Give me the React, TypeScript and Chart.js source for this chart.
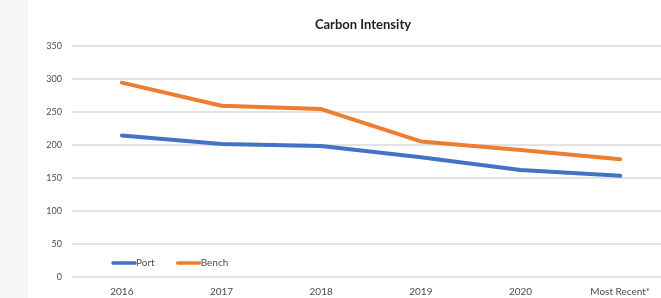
import React, { useEffect, useRef } from "react";
import { Chart, registerables } from "chart.js";

Chart.register(...registerables);

const categories = ["2016", "2017", "2018", "2019", "2020", "Most Recent*"];
const portValues = [214, 201, 198, 181, 162, 153];
const benchValues = [294, 259, 254, 205, 192, 178];
const yTicks = [0, 50, 100, 150, 200, 250, 300, 350];

const FONT = "Lato, 'Open Sans', sans-serif";

const insideLegend = {
  id: "insideLegend",
  afterLayout(chart: any) {
    // shift the title block so it is centred like the original chart
    const t = chart.titleBlock;
    if (t) t.left += 28;
  },
  afterDraw(chart: any) {
    const { ctx, chartArea } = chart;
    const y = chartArea.bottom - 14;
    let x = chartArea.left + 41;
    ctx.save();
    ctx.font = `10px ${FONT}`;
    ctx.textBaseline = "middle";
    chart.data.datasets.forEach((ds: any) => {
      ctx.strokeStyle = ds.borderColor;
      ctx.lineWidth = 3.5;
      ctx.lineCap = "round";
      ctx.beginPath();
      ctx.moveTo(x, y);
      ctx.lineTo(x + 22, y);
      ctx.stroke();
      ctx.fillStyle = "#4d4d4d";
      ctx.fillText(ds.label, x + 23, y);
      x += 23 + ctx.measureText(ds.label).width + 23;
    });
    ctx.restore();
  },
};

export default function App() {
  const ref = useRef<HTMLCanvasElement>(null);
  useEffect(() => {
    if (!ref.current) return;
    const chart = new Chart(ref.current, {
      type: "line",
      data: {
        labels: categories,
        datasets: [
          {
            label: "Port",
            data: portValues,
            borderColor: "#4472C4",
            backgroundColor: "#4472C4",
            borderWidth: 4,
            pointRadius: 0,
            tension: 0,
            borderJoinStyle: "round",
            borderCapStyle: "round",
          },
          {
            label: "Bench",
            data: benchValues,
            borderColor: "#ED7D31",
            backgroundColor: "#ED7D31",
            borderWidth: 4,
            pointRadius: 0,
            tension: 0,
            borderJoinStyle: "round",
            borderCapStyle: "round",
          },
        ],
      },
      options: {
        animation: false,
        responsive: false,
        layout: { padding: { left: 0, right: 28, top: 0, bottom: 0 } },
        plugins: {
          legend: { display: false },
          tooltip: { enabled: false },
          title: {
            display: true,
            text: "Carbon Intensity",
            color: "#1f1f1f",
            font: { family: FONT, size: 13, weight: "bold" },
            padding: { top: 17, bottom: 13 },
          },
        },
        scales: {
          x: {
            type: "category",
            offset: true,
            grid: { display: false, drawTicks: false },
            border: { display: false },
            ticks: {
              color: "#4d4d4d",
              font: { family: FONT, size: 10 },
              padding: 9,
              maxRotation: 0,
              autoSkip: false,
            },
            afterFit(scale: any) {
              scale.height = 21;
            },
          },
          y: {
            min: 0,
            max: 350,
            afterBuildTicks(scale: any) {
              scale.ticks = yTicks.map((v) => ({ value: v }));
            },
            grid: { color: "#e3e3e3", lineWidth: 2, drawTicks: false },
            border: { display: false },
            ticks: {
              color: "#4d4d4d",
              font: { family: FONT, size: 9 },
              padding: 10,
            },
            afterFit(scale: any) {
              scale.width = 44;
            },
          },
        },
      },
      plugins: [insideLegend],
    });
    return () => chart.destroy();
  }, []);
  return (
    <div
      style={{
        position: "fixed",
        left: 0,
        top: 0,
        width: 661,
        height: 298,
        overflow: "hidden",
        background: "#f6f6f6",
      }}
    >
      <div
        style={{
          position: "absolute",
          left: 28,
          top: 0,
          width: 670,
          height: 298,
          background: "#ffffff",
        }}
      >
        <canvas ref={ref} width={670} height={298} style={{ display: "block" }} />
      </div>
    </div>
  );
}
